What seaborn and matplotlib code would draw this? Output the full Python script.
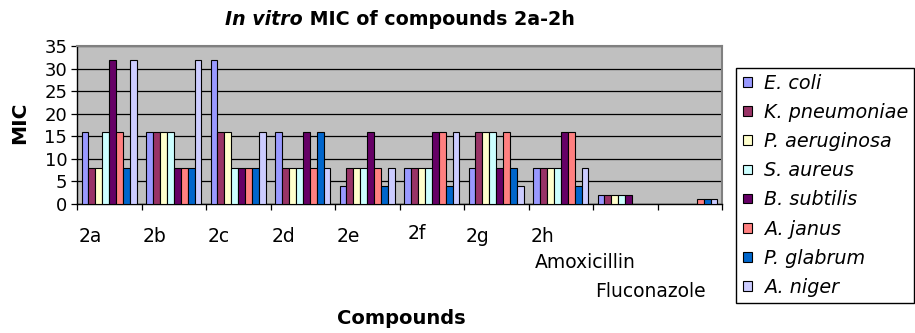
import numpy as np
import pandas as pd
import matplotlib
matplotlib.use("Agg")
import matplotlib.pyplot as plt
import matplotlib.patches as mpatches
from matplotlib.legend_handler import HandlerBase
import seaborn as sns

# ---- data ----
compounds = ["2a", "2b", "2c", "2d", "2e", "2f", "2g", "2h", "Amoxicillin", "Fluconazole"]
organisms = ["E. coli", "K. pneumoniae", "P. aeruginosa", "S. aureus",
             "B. subtilis", "A. janus", "P. glabrum", "A. niger"]
e_coli        = [16, 16, 32, 16, 4, 8, 8, 8, 2, np.nan]
k_pneumoniae  = [8, 16, 16, 8, 8, 8, 16, 8, 2, np.nan]
p_aeruginosa  = [8, 16, 16, 8, 8, 8, 16, 8, 2, np.nan]
s_aureus      = [16, 16, 8, 8, 8, 8, 16, 8, 2, np.nan]
b_subtilis    = [32, 8, 8, 16, 16, 16, 8, 16, 2, np.nan]
a_janus       = [16, 8, 8, 8, 8, 16, 16, 16, np.nan, 1]
p_glabrum     = [8, 8, 8, 16, 4, 4, 8, 4, np.nan, 1]
a_niger       = [32, 32, 16, 8, 8, 16, 4, 8, np.nan, 1]
yticks = [0, 5, 10, 15, 20, 25, 30, 35]

series = [e_coli, k_pneumoniae, p_aeruginosa, s_aureus, b_subtilis, a_janus, p_glabrum, a_niger]
rows = []
for org, vals in zip(organisms, series):
    for comp, v in zip(compounds, vals):
        rows.append({"Compound": comp, "Organism": org, "MIC": v})
df = pd.DataFrame(rows).dropna()

colors = ["#9999FF", "#993366", "#FFFFCC", "#CCFFFF",
          "#660066", "#FF8080", "#0066CC", "#CCCCFF"]


class SquareHandler(HandlerBase):
    def create_artists(self, legend, orig_handle, xdescent, ydescent, width, height,
                       fontsize, trans):
        side = 7.0  # points
        x0 = -xdescent + (width - side) / 2
        y0 = -ydescent + (height - side) / 2
        r = mpatches.Rectangle((x0, y0), side, side,
                               facecolor=orig_handle.get_facecolor(),
                               edgecolor="black", linewidth=0.8, transform=trans)
        return [r]


# ---- figure ----
sns.set_theme(style="white")
plt.rcParams["font.family"] = ["DejaVu Sans"]
plt.rcParams["text.color"] = "black"
plt.rcParams["axes.labelcolor"] = "black"
plt.rcParams["xtick.color"] = "black"
plt.rcParams["ytick.color"] = "black"
W, H = 915, 333
fig = plt.figure(figsize=(W / 100, H / 100), dpi=100)
ax_left, ax_right, ax_top, ax_bot = 77, 722, 46, 204
ax = fig.add_axes([ax_left / W, 1 - ax_bot / H, (ax_right - ax_left) / W, (ax_bot - ax_top) / H])

sns.barplot(data=df, x="Compound", y="MIC", hue="Organism", order=compounds,
            hue_order=organisms, palette=colors, width=0.86, dodge=True,
            edgecolor="black", linewidth=0.8, saturation=1, errorbar=None, ax=ax,
            zorder=3, legend=False)

ax.set_facecolor("#C0C0C0")
ax.set_xlim(-0.5, len(compounds) - 0.5)
ax.set_ylim(0, 35)
ax.set_yticks(yticks)
ax.set_yticklabels([str(t) for t in yticks], fontsize=13, color="black")
ax.yaxis.grid(True, color="black", linewidth=0.9, zorder=1)
ax.set_axisbelow(True)
for s in ["top", "right"]:
    ax.spines[s].set_color("#808080")
    ax.spines[s].set_linewidth(1.5)
for s in ["left", "bottom"]:
    ax.spines[s].set_color("black")
    ax.spines[s].set_linewidth(1.0)
ax.tick_params(axis="y", direction="out", length=4, width=0.9, color="black", pad=3, left=True)

# x ticks at group boundaries, labels placed as in the original (Excel-staggered)
ax.set_xticks(np.arange(len(compounds) + 1) - 0.5)
ax.set_xticklabels([])
ax.tick_params(axis="x", direction="out", length=4, width=0.9, color="black", bottom=True)
label_dx = [-0.48, -0.48, -0.47, -0.48, -0.47, -0.38, -0.48, -0.47, -1.40, -1.47]
label_drop_px = [38, 38, 38, 38, 38, 35, 38, 38, 64, 93]
for i, (lab, dx, dp) in enumerate(zip(compounds, label_dx, label_drop_px)):
    ax.annotate(lab, xy=(i + dx, 0), xycoords=("data", "axes fraction"),
                xytext=(0, -dp * 0.72), textcoords="offset points",
                ha="left", va="baseline", fontsize=13.5, color="black",
                annotation_clip=False)

ax.set_xlabel("")
ax.set_ylabel("")
fig.text(401 / W, 1 - 318 / H, "Compounds", ha="center", va="center",
         fontsize=14, fontweight="bold", color="black")
fig.text(20 / W, 1 - 123 / H, "MIC", ha="center", va="center", rotation=90,
         fontsize=14.5, fontweight="bold", color="black")

# title: italic bold + bold
t1 = fig.text(225 / W, 1 - 25 / H, "In vitro", ha="left", va="baseline",
              fontsize=13.7, fontweight="bold", fontstyle="italic", color="black")
fig.canvas.draw()
ax.annotate(" MIC of compounds 2a-2h", xy=(1, 0), xycoords=t1, ha="left", va="bottom",
            fontsize=13.7, fontweight="bold", color="black", annotation_clip=False)

# legend
handles = [mpatches.Patch(facecolor=c, edgecolor="black") for c in colors]
leg = fig.legend(handles, organisms, loc="upper left",
                 bbox_to_anchor=(736 / W, 1 - 68 / H), bbox_transform=fig.transFigure,
                 frameon=True, fancybox=False, edgecolor="black", framealpha=1,
                 prop={"size": 13.8, "style": "italic"},
                 handler_map={mpatches.Patch: SquareHandler()},
                 handlelength=0.6, handleheight=0.6, handletextpad=0.55,
                 labelspacing=0.53, borderpad=0.3, borderaxespad=0)
leg.get_frame().set_linewidth(1.0)
for t in leg.get_texts():
    t.set_color("black")

fig.savefig("out.png", dpi=100, facecolor="white")
